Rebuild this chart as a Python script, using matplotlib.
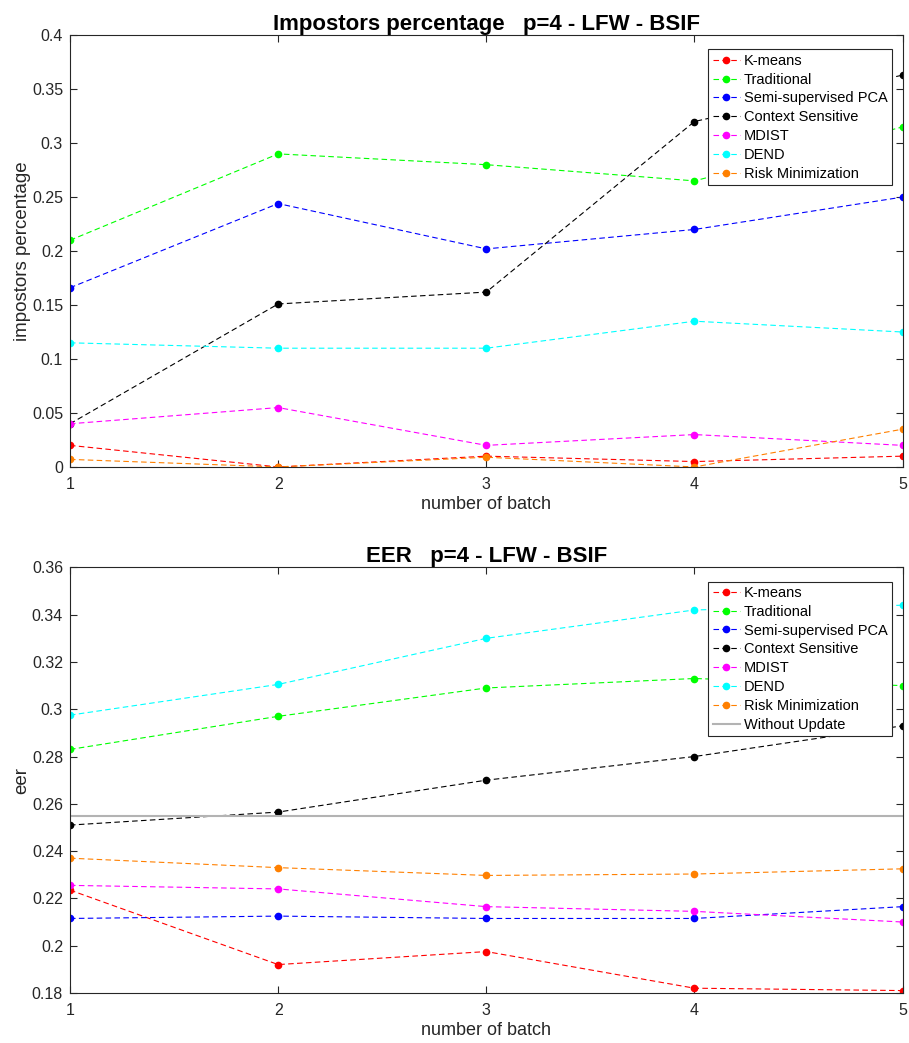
import numpy as np
import matplotlib
matplotlib.use('Agg')
import matplotlib.pyplot as plt
from matplotlib.ticker import FuncFormatter

plt.rcParams['font.family'] = ['Liberation Sans', 'DejaVu Sans']

batches = [1, 2, 3, 4, 5]
methods = ['K-means', 'Traditional', 'Semi-supervised PCA', 'Context Sensitive',
           'MDIST', 'DEND', 'Risk Minimization']
colors = ['#ff0000', '#00ff00', '#0000ff', '#000000', '#ff00ff', '#00ffff', '#ff8000']

# impostors percentage
imp_kmeans = [0.02, 0.0, 0.01, 0.005, 0.01]
imp_trad = [0.21, 0.29, 0.28, 0.265, 0.315]
imp_spca = [0.166, 0.244, 0.202, 0.22, 0.25]
imp_ctx = [0.04, 0.151, 0.162, 0.32, 0.363]
imp_mdist = [0.04, 0.055, 0.02, 0.03, 0.02]
imp_dend = [0.115, 0.11, 0.11, 0.135, 0.125]
imp_risk = [0.007, 0.0, 0.009, 0.0, 0.035]

# eer
eer_kmeans = [0.2235, 0.192, 0.1975, 0.182, 0.181]
eer_trad = [0.283, 0.297, 0.309, 0.313, 0.310]
eer_spca = [0.2115, 0.2125, 0.2115, 0.2115, 0.2165]
eer_ctx = [0.251, 0.2565, 0.270, 0.280, 0.293]
eer_mdist = [0.2255, 0.224, 0.2165, 0.2145, 0.210]
eer_dend = [0.2975, 0.3105, 0.330, 0.342, 0.344]
eer_risk = [0.237, 0.233, 0.2297, 0.2303, 0.2325]
eer_without = 0.2548

imp_all = [imp_kmeans, imp_trad, imp_spca, imp_ctx, imp_mdist, imp_dend, imp_risk]
eer_all = [eer_kmeans, eer_trad, eer_spca, eer_ctx, eer_mdist, eer_dend, eer_risk]

axcol = '#262626'
fs = 11.5


def fmt(v, pos):
    s = ('%.2f' % v).rstrip('0').rstrip('.')
    return s


def style(ax):
    for sp in ax.spines.values():
        sp.set_color(axcol)
        sp.set_linewidth(0.8)
    ax.tick_params(direction='in', top=True, right=True, colors=axcol,
                   labelsize=fs, length=5, width=0.8, labelcolor='#262626')
    ax.tick_params(axis='x', pad=7)
    ax.tick_params(axis='y', pad=5)
    ax.set_xlim(1, 5)
    ax.set_xticks(batches)
    ax.yaxis.set_major_formatter(FuncFormatter(fmt))
    ax.set_xlabel('number of batch', fontsize=13, color=axcol, labelpad=3)


def add_legend(ax):
    leg = ax.legend(loc='upper right', bbox_to_anchor=(0.9925, 0.977), fontsize=10.5,
                    handlelength=1.9, handletextpad=0.25, borderpad=0.3,
                    labelspacing=0.33, borderaxespad=0.3,
                    fancybox=False, edgecolor=axcol, framealpha=1)
    leg.get_frame().set_linewidth(0.8)


fig = plt.figure(figsize=(9.09, 10.43), dpi=100)
ax1 = fig.add_axes([0.077, 0.5523, 0.916, 0.414])
ax2 = fig.add_axes([0.077, 0.048, 0.916, 0.408])

for vals, name, c in zip(imp_all, methods, colors):
    ax1.plot(batches, vals, '--', color=c, marker='o', markersize=4.5, lw=0.8,
             dashes=(5, 3), label=name)
style(ax1)
ax1.set_ylim(0, 0.4)
ax1.set_yticks(np.arange(0, 0.401, 0.05))
ax1.set_ylabel('impostors percentage', fontsize=13.5, color=axcol, labelpad=1)
ax1.set_title('Impostors percentage   p=4 - LFW - BSIF', fontsize=16, fontweight='bold', pad=4)
add_legend(ax1)

for vals, name, c in zip(eer_all, methods, colors):
    ax2.plot(batches, vals, '--', color=c, marker='o', markersize=4.5, lw=0.8,
             dashes=(5, 3), label=name)
ax2.axhline(eer_without, color='#b3b3b3', lw=1.5, label='Without Update')
style(ax2)
ax2.set_ylim(0.18, 0.36)
ax2.set_yticks(np.arange(0.18, 0.3601, 0.02))
ax2.set_ylabel('eer', fontsize=13.5, color=axcol, labelpad=1)
ax2.set_title('EER   p=4 - LFW - BSIF', fontsize=16, fontweight='bold', pad=4)
add_legend(ax2)

fig.savefig('out.png', dpi=100)
